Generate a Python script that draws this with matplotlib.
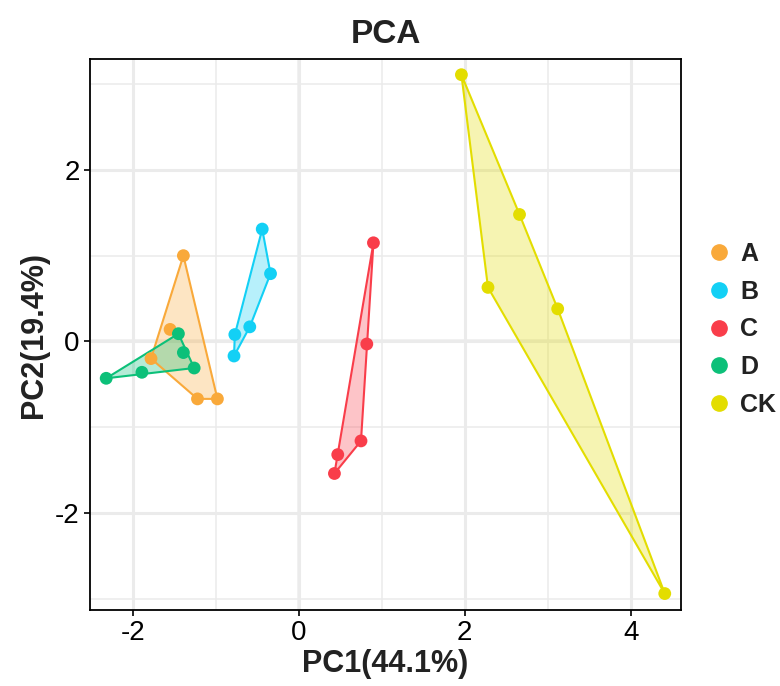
import matplotlib
matplotlib.use("Agg")
import matplotlib.pyplot as plt
import numpy as np
from matplotlib.ticker import MultipleLocator
from matplotlib.lines import Line2D

plt.rcParams["font.family"] = ["Liberation Sans", "DejaVu Sans"]
plt.rcParams["axes.unicode_minus"] = False

GROUPS = ["A", "B", "C", "D", "CK"]
COLORS = {"A": "#F9A93A", "B": "#13D0F5", "C": "#F93D4A", "D": "#0CC079", "CK": "#E3DD00"}

PC1 = {
    "A": [-1.39, -1.55, -1.78, -1.22, -0.98],
    "B": [-0.44, -0.34, -0.59, -0.77, -0.78],
    "C": [0.90, 0.82, 0.75, 0.47, 0.43],
    "D": [-1.45, -1.39, -1.26, -1.89, -2.32],
    "CK": [1.96, 2.66, 2.28, 3.12, 4.41],
}
PC2 = {
    "A": [1.00, 0.14, -0.20, -0.67, -0.67],
    "B": [1.31, 0.79, 0.17, 0.08, -0.17],
    "C": [1.15, -0.03, -1.16, -1.32, -1.54],
    "D": [0.09, -0.13, -0.31, -0.36, -0.43],
    "CK": [3.11, 1.48, 0.63, 0.38, -2.94],
}


def hull(pts):
    pts = sorted(map(tuple, pts))

    def cross(o, a, b):
        return (a[0] - o[0]) * (b[1] - o[1]) - (a[1] - o[1]) * (b[0] - o[0])

    lower, upper = [], []
    for p in pts:
        while len(lower) >= 2 and cross(lower[-2], lower[-1], p) <= 0:
            lower.pop()
        lower.append(p)
    for p in reversed(pts):
        while len(upper) >= 2 and cross(upper[-2], upper[-1], p) <= 0:
            upper.pop()
        upper.append(p)
    return np.array(lower[:-1] + upper[:-1])


fig = plt.figure(figsize=(7.8, 6.86), dpi=100)
ax = fig.add_axes([0.1154, 0.111, 0.7576, 0.8026])

ax.set_xlim(-2.515, 4.605)
ax.set_ylim(-3.13, 3.29)
ax.xaxis.set_major_locator(MultipleLocator(2))
ax.yaxis.set_major_locator(MultipleLocator(2))
ax.xaxis.set_minor_locator(MultipleLocator(1))
ax.yaxis.set_minor_locator(MultipleLocator(1))
ax.grid(which="major", color="#EBEBEB", lw=2.2, zorder=0)
ax.grid(which="minor", color="#EBEBEB", lw=1.1, zorder=0)
ax.tick_params(which="minor", length=0)
ax.tick_params(which="major", length=4, width=1.2, color="black",
               labelsize=20, labelcolor="black")
for s in ax.spines.values():
    s.set_linewidth(1.3)
    s.set_color("black")

ax.axhline(0, color="#8C8C8C", lw=1.6, zorder=1)
ax.axvline(0, color="#8C8C8C", lw=1.6, zorder=1)

for g in GROUPS:
    pts = np.column_stack([PC1[g], PC2[g]])
    h = hull(pts)
    ax.fill(h[:, 0], h[:, 1], facecolor=COLORS[g], alpha=0.3, edgecolor="none", zorder=2)
    hc = np.vstack([h, h[:1]])
    ax.plot(hc[:, 0], hc[:, 1], color=COLORS[g], lw=1.5, zorder=3)
    ax.scatter(PC1[g], PC2[g], s=85, color=COLORS[g], zorder=4, edgecolors="none")

ax.set_xlabel("PC1(44.1%)", fontsize=22, fontweight="bold", color="#222222", labelpad=2)
ax.set_ylabel("PC2(19.4%)", fontsize=22, fontweight="bold", color="#222222", labelpad=4)
ax.set_title("PCA", fontsize=24, fontweight="bold", color="#222222", pad=12)

handles = [Line2D([], [], marker="o", ls="none", color=COLORS[g], markersize=11) for g in GROUPS]
leg = fig.legend(handles, GROUPS, loc="center left", bbox_to_anchor=(0.906, 0.52),
                 frameon=False, handlelength=1.0, handletextpad=0.35, labelspacing=0.55,
                 borderpad=0, borderaxespad=0,
                 prop={"size": 18, "weight": "bold"})
for t in leg.get_texts():
    t.set_color("#222222")

fig.savefig("out.png", dpi=100)
